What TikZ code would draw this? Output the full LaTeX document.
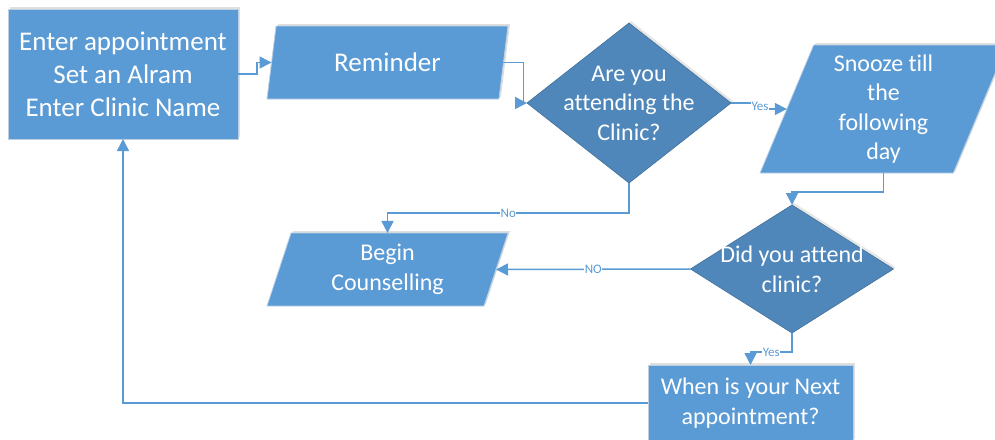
\documentclass[tikz,border=0pt]{standalone}
\usepackage{fontspec}
\setmainfont[Ligatures=NoCommon]{Carlito}
\usetikzlibrary{shapes.geometric,arrows.meta,shadows}
\definecolor{boxblue}{HTML}{5B9BD5}
\definecolor{diablue}{HTML}{4F87BA}
\definecolor{diaedge}{HTML}{41719C}
\definecolor{boxedge}{HTML}{BCCFE3}
\tikzset{
    bigtext/.style={text=white, font=\fontsize{27}{33}\selectfont, align=center},
    smalltext/.style={text=white, font=\fontsize{24}{29.5}\selectfont, align=center},
    procbox/.style={rectangle, draw=boxedge, line width=0.8pt, fill=boxblue, inner sep=0pt, outer sep=0pt,
            drop shadow={opacity=0.25, shadow xshift=2pt, shadow yshift=2pt}},
    iobox/.style={trapezium, trapezium stretches body, draw=boxedge, line width=0.8pt, fill=boxblue,
            inner sep=0pt, outer sep=0pt, drop shadow={opacity=0.25, shadow xshift=2pt, shadow yshift=2pt}},
    decide/.style={diamond, draw=diaedge, line width=0.6pt, fill=diablue, inner sep=0pt, outer sep=0pt,
            drop shadow={opacity=0.2, shadow xshift=2pt, shadow yshift=2pt}},
    flow/.style={draw=boxblue, line width=1.5pt, -{Triangle[width=12pt,length=12pt]}},
    answer/.style={text=boxblue, fill=white, font=\fontsize{13}{13}\selectfont, inner sep=0.5pt},
}

\begin{document}
\begin{tikzpicture}[x=1pt, y=-1pt]
        \useasboundingbox (0, 0) rectangle (995, 439);
        \clip (0, 0) rectangle (995, 439);
        %boxes
        \node[procbox, bigtext, minimum width=230, minimum height=130] (entry) at (123, 74)
            {Enter appointment\\Set an Alram\\Enter Clinic Name};
        \node[iobox, bigtext, minimum width=241, minimum height=73,
            trapezium left angle=64.4, trapezium right angle=115.6] (remind) at (387.5, 62.5) {Reminder};
        \node[decide, minimum width=204, minimum height=160,
            label={[smalltext]center:{Are you\\attending the\\Clinic?}}] (attend) at (629, 103) {};
        \node[iobox, smalltext, minimum width=247, minimum height=128,
            trapezium left angle=63.8, trapezium right angle=116.2] (snooze) at (883.5, 109)
            {Snooze till\\the\\following\\day};
        \node[iobox, smalltext, minimum width=241, minimum height=73,
            trapezium left angle=64.4, trapezium right angle=115.6] (counsel) at (387.5, 269.5)
            {Begin\\Counselling};
        \node[decide, minimum width=203, minimum height=128,
            label={[smalltext]center:{Did you attend\\clinic?}}] (attended) at (792, 269) {};
        \node[procbox, smalltext, minimum width=205, minimum height=76] (nextappt) at (750.5, 403)
            {When is your Next\\appointment?};
        %connectors
        \draw[flow] (entry.east) -- ++(19, 0) |- (remind.west);
        \draw[flow] (remind.east) -- ++(20, 0) |- (attend.west);
        \draw[flow] (attend.east) -- ++(29, 0) |- node[answer, pos=0.25] {Yes} (snooze.west);
        \draw[flow] (attend.south) -- ++(0, 30) -| node[answer, pos=0.25] {No} (counsel.north);
        \draw[flow] (snooze.south -| snooze.center) -- ++(0, 19) -| (attended.north);
        \draw[flow] (attended.west) -- node[answer] {NO} (counsel.east);
        \draw[flow] (attended.south) -- ++(0, 19) -| node[answer, pos=0.25] {Yes} (nextappt.north);
        \draw[flow] (nextappt.west) -| (entry.south);
    \end{tikzpicture}
\end{document}
